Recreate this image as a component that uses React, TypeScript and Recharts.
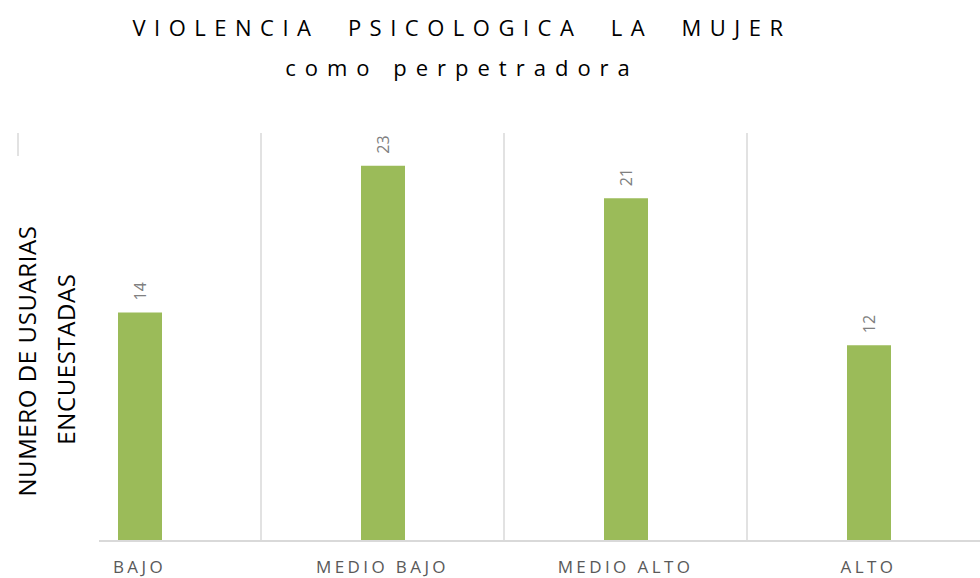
import React from 'react';
import { BarChart, Bar, XAxis, YAxis, CartesianGrid, LabelList } from 'recharts';

const categories = ['BAJO', 'MEDIO BAJO', 'MEDIO ALTO', 'ALTO'];
const usuarias = [14, 23, 21, 12];
const yTicks = [0, 5, 10, 15, 20, 25];

const data = categories.map((name, i) => ({ name, value: usuarias[i] }));

const FONT = '"Open Sans", sans-serif';
const GREEN = '#9BBB59';

const renderTick = ({ x, y, payload }: any) => (
  <text
    x={x}
    y={y + 24}
    textAnchor="middle"
    fontFamily={FONT}
    fontSize={17}
    letterSpacing={3.4}
    fill="#595959"
  >
    {payload.value}
  </text>
);

const renderValue = ({ x, y, width, value }: any) => {
  const cx = x + width / 2;
  const cy = y - 12;
  return (
    <text
      x={cx}
      y={cy}
      transform={`rotate(-90, ${cx}, ${cy})`}
      textAnchor="start"
      dominantBaseline="central"
      fontFamily={FONT}
      fontSize={16}
      fill="#808080"
    >
      {value}
    </text>
  );
};

export default function App() {
  return (
    <div
      style={{
        position: 'absolute',
        left: 0,
        top: 0,
        width: 980,
        height: 578,
        overflow: 'hidden',
        background: '#fff',
      }}
    >
      <div
        style={{
          position: 'absolute',
          left: 0,
          top: 0,
          width: 924,
          textAlign: 'center',
          fontFamily: FONT,
          color: '#000',
          fontSize: 22,
          lineHeight: '40px',
          paddingTop: 7,
          letterSpacing: 8.5,
          whiteSpace: 'pre',
        }}
      >
        <div>{'VIOLENCIA  PSICOLOGICA  LA  MUJER'}</div>
        <div style={{ letterSpacing: 9 }}>como perpetradora</div>
      </div>
      <BarChart
        width={1000}
        height={578}
        data={data}
        margin={{ top: 133, right: 10, bottom: 7, left: 18 }}
        barCategoryGap={0}
      >
        <CartesianGrid
          horizontal={false}
          stroke="#d9d9d9"
          strokeWidth={1.5}
          verticalCoordinatesGenerator={({ offset }: any) =>
            categories.map((_, i) => offset.left + (i * offset.width) / categories.length)
          }
        />
        <XAxis
          dataKey="name"
          height={30}
          axisLine={{ stroke: '#d9d9d9', strokeWidth: 2 }}
          tickLine={false}
          tick={renderTick}
          interval={0}
        />
        <YAxis hide domain={[0, 25]} ticks={yTicks} />
        <Bar dataKey="value" fill={GREEN} barSize={44} isAnimationActive={false}>
          <LabelList dataKey="value" content={renderValue} />
        </Bar>
      </BarChart>
      <svg
        width={99}
        height={392}
        style={{ position: 'absolute', left: 0, top: 156 }}
      >
        <rect x={0} y={0} width={99} height={392} fill="#fff" />
        <text
          x={26}
          y={205}
          transform="rotate(-90, 26, 205)"
          textAnchor="middle"
          dominantBaseline="central"
          fontFamily={FONT}
          fontSize={24}
          letterSpacing={0.6}
          fill="#000"
        >
          NUMERO DE USUARIAS
        </text>
        <text
          x={65}
          y={203}
          transform="rotate(-90, 65, 203)"
          textAnchor="middle"
          dominantBaseline="central"
          fontFamily={FONT}
          fontSize={24}
          letterSpacing={0.6}
          fill="#000"
        >
          ENCUESTADAS
        </text>
      </svg>
    </div>
  );
}
